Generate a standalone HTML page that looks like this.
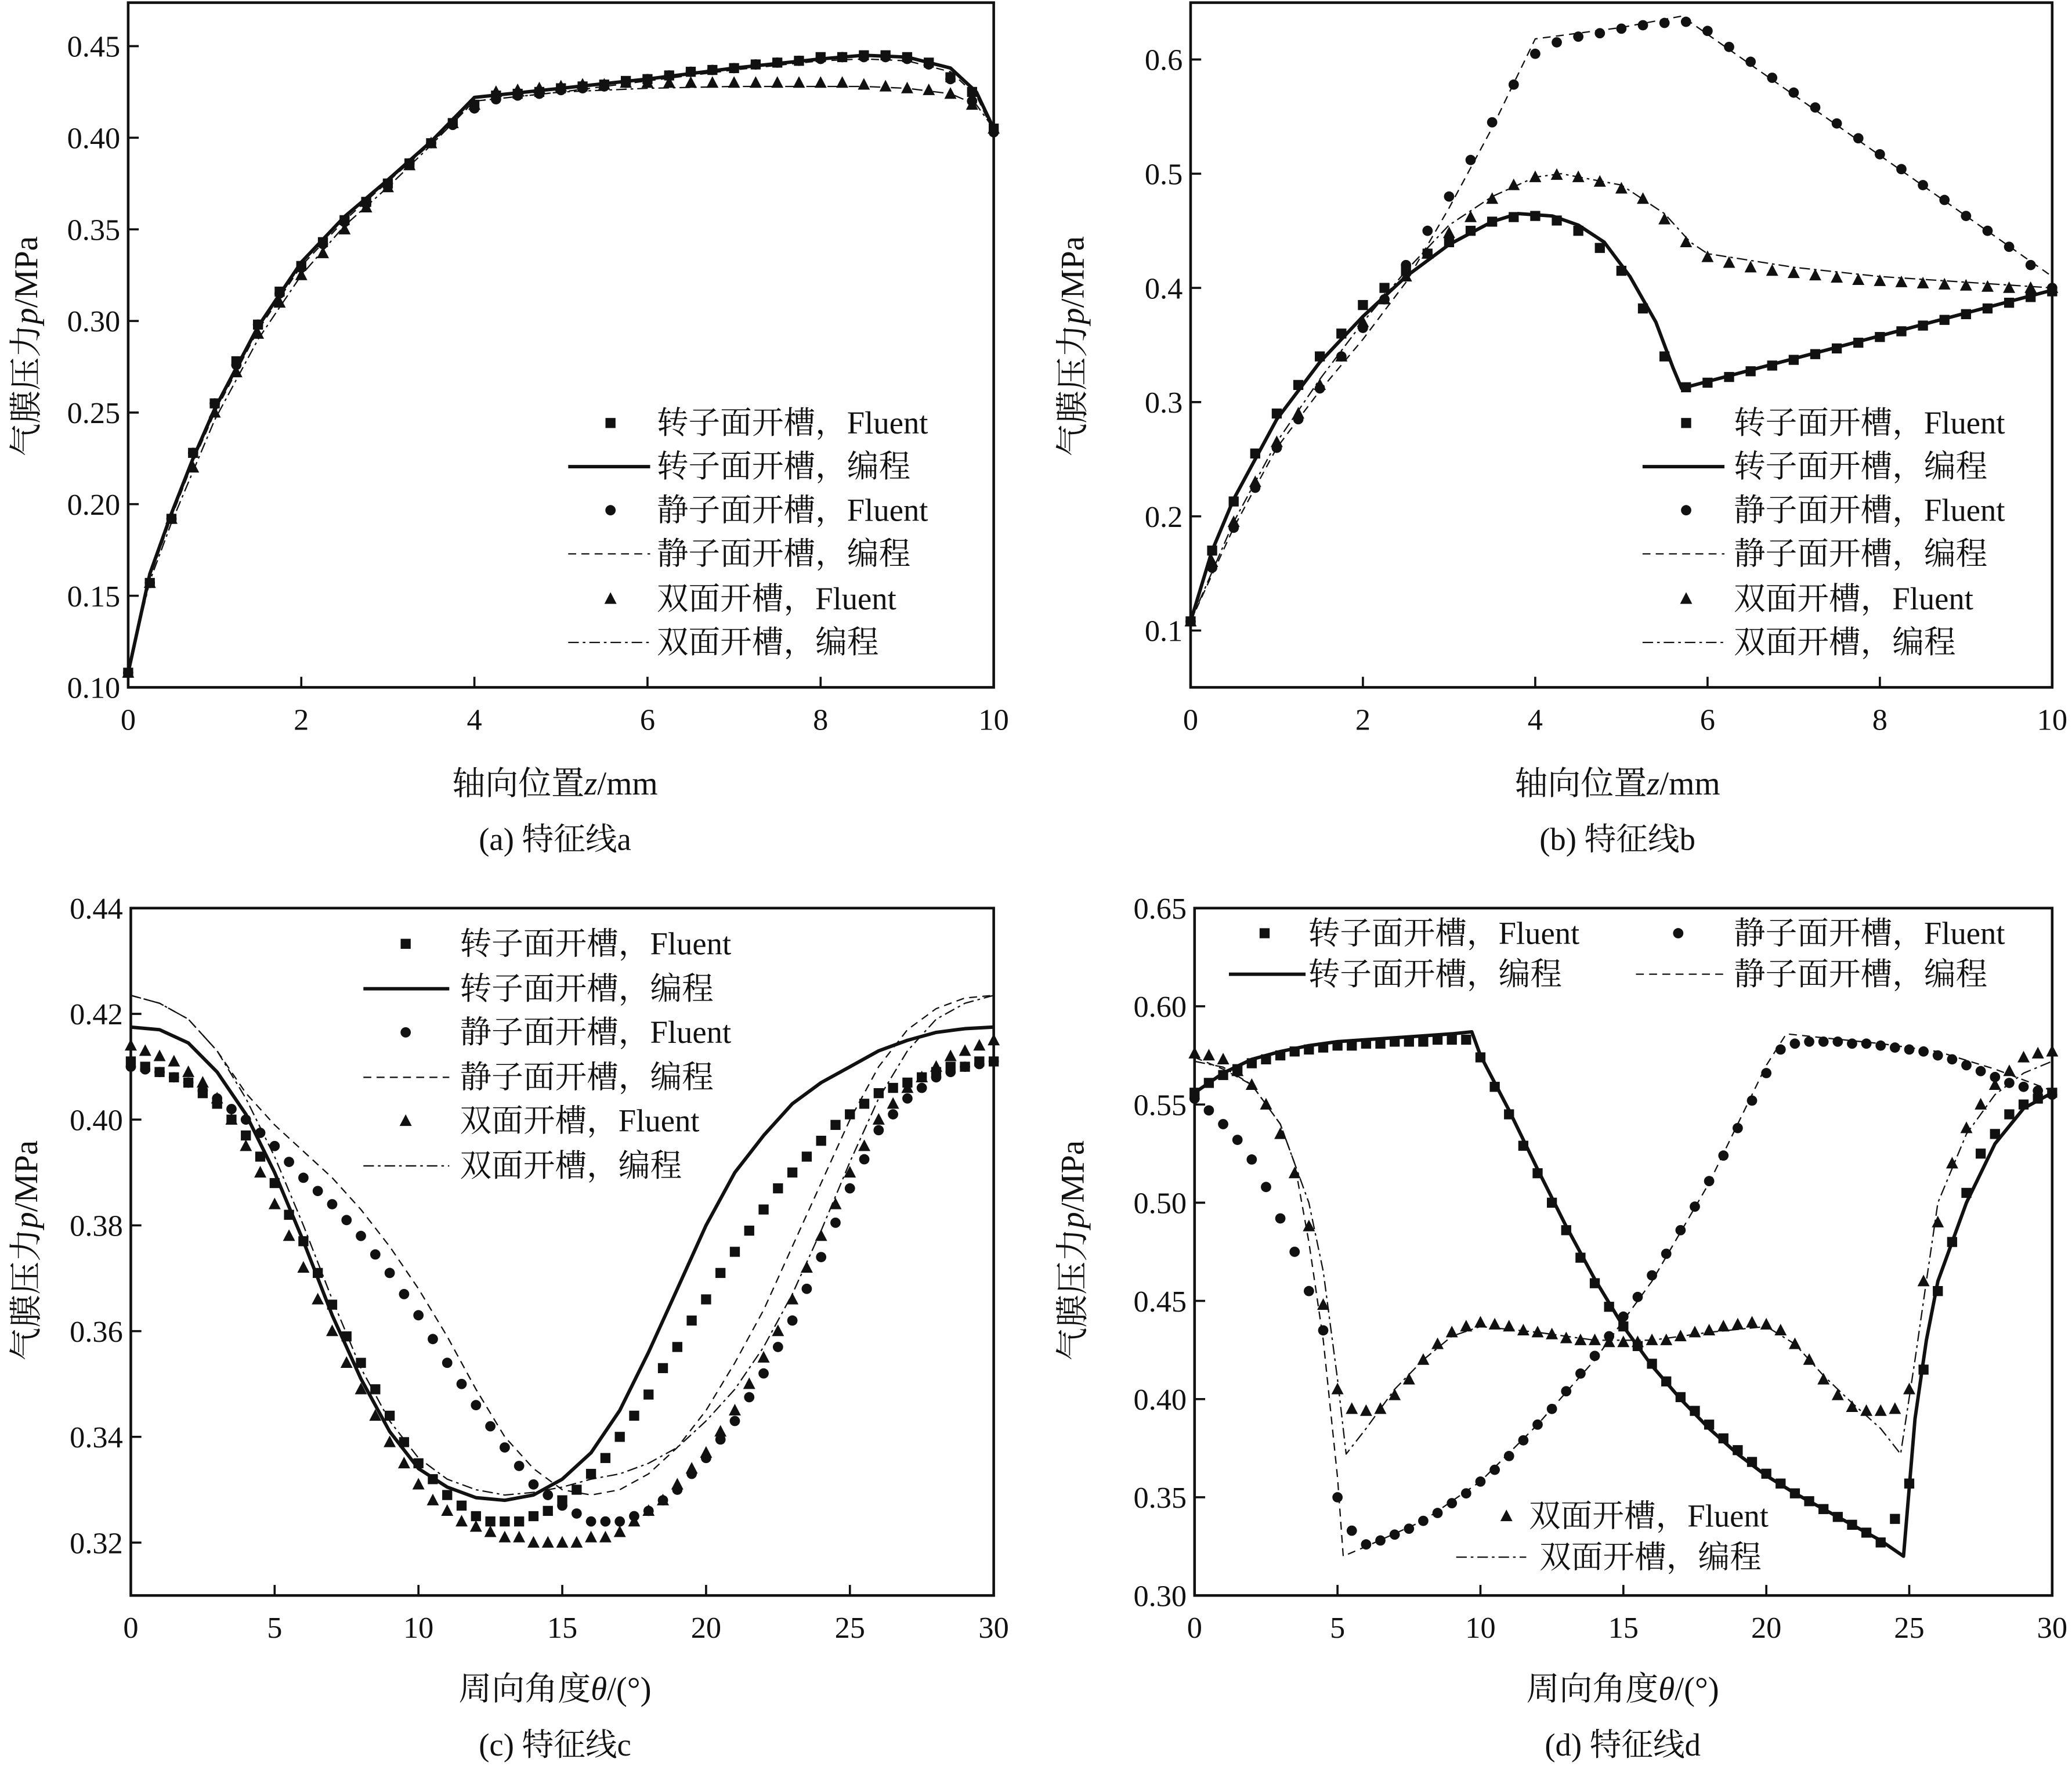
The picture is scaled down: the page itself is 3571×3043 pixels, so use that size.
<!DOCTYPE html>
<html><head><meta charset="utf-8">
<style>
html,body{margin:0;padding:0;background:#fff;}
svg{display:block;}
text{font-family:"Liberation Serif","Times New Roman","Noto Serif CJK SC","Noto Sans CJK SC",serif;fill:#111;}
</style></head>
<body>
<svg id="fig" xmlns="http://www.w3.org/2000/svg" width="3571" height="3043" viewBox="0 0 1568 1336" preserveAspectRatio="none"></svg>
<script>
// ---------- Panel (a) data ----------
const aMarkZ = [0,0.25,0.5,0.75,1,1.25,1.5,1.75,2,2.25,2.5,2.75,3,3.25,3.5,3.75,4,4.25,4.5,4.75,5,5.25,5.5,5.75,6,6.25,6.5,6.75,7,7.25,7.5,7.75,8,8.25,8.5,8.75,9,9.25,9.5,9.75,10];
const aRotorMark = [.108,.157,.192,.228,.255,.278,.298,.316,.330,.343,.355,.365,.375,.386,.397,.408,.418,.423,.424,.425,.427,.428,.429,.431,.432,.434,.436,.437,.438,.440,.441,.442,.444,.444,.445,.445,.444,.441,.433,.425,.405];
const aStatorMark = [.108,.157,.192,.228,.255,.276,.298,.315,.329,.342,.354,.364,.375,.386,.397,.407,.416,.421,.423,.424,.426,.427,.428,.430,.432,.434,.436,.437,.438,.440,.441,.442,.443,.444,.444,.444,.443,.440,.432,.420,.403];
const aDoubleMark = [.108,.157,.192,.220,.250,.272,.293,.310,.325,.337,.350,.362,.373,.385,.397,.408,.418,.425,.426,.427,.428,.429,.429,.430,.430,.430,.430,.430,.430,.430,.430,.430,.430,.430,.429,.428,.427,.426,.424,.418,.405];
const aLineZ = [0,0.25,0.5,0.75,1,1.5,2,2.5,3,3.5,4,5,6,7,8,8.5,9,9.5,9.8,10];
const aRotorLine = [.108,.162,.195,.225,.252,.297,.332,.357,.377,.398,.422,.427,.432,.438,.443,.445,.444,.438,.425,.405];
const aStatorLine = [.108,.160,.193,.223,.250,.295,.330,.355,.376,.397,.420,.425,.431,.437,.442,.443,.442,.436,.423,.403];
const aDoubleLine = [.108,.158,.190,.218,.246,.290,.325,.352,.373,.396,.420,.425,.427,.428,.428,.428,.427,.424,.418,.405];
// ---------- Panel (b) data ----------
const bMarkZ = aMarkZ;
const bRotorMark = [.108,.17,.213,.255,.29,.315,.34,.36,.385,.40,.415,.43,.44,.45,.458,.462,.463,.459,.45,.435,.415,.382,.34,.313,.317,.322,.327,.332,.337,.342,.347,.352,.357,.362,.367,.372,.377,.382,.387,.392,.397];
const bStatorMark = [.108,.155,.19,.225,.26,.285,.312,.34,.365,.39,.42,.45,.48,.512,.545,.578,.605,.615,.62,.623,.627,.63,.632,.633,.625,.611,.598,.584,.571,.558,.544,.531,.517,.504,.490,.477,.463,.450,.436,.42,.40];
const bDoubleMark = [.108,.16,.195,.23,.265,.29,.315,.34,.37,.39,.41,.43,.448,.462,.478,.49,.497,.499,.497,.493,.487,.478,.46,.44,.427,.422,.418,.415,.413,.411,.409,.407,.406,.405,.404,.403,.402,.401,.400,.400,.400];
const bRotorLineZ = [0,0.25,0.5,1,1.5,2,2.5,3,3.5,3.8,4.2,4.5,4.8,5.1,5.4,5.6,5.7,6,8,10];
const bRotorLine = [.108,.17,.215,.285,.335,.375,.41,.438,.458,.465,.463,.455,.44,.41,.37,.33,.312,.318,.358,.398];
const bStatorLineZ = [0,0.5,1,1.5,2,2.5,3,3.5,4,5,5.7,10];
const bStatorLine = [.108,.19,.26,.31,.355,.405,.47,.54,.618,.628,.638,.41];
const bDoubleLineZ = [0,0.5,1,1.5,2,2.5,3,3.5,4,4.3,5,5.5,5.8,6,7,8,9,10];
const bDoubleLine = [.108,.195,.265,.32,.37,.415,.455,.48,.497,.5,.49,.465,.44,.43,.418,.41,.405,.40];
// ---------- Panel (c) data ----------
const cMarkT = [0,.5,1,1.5,2,2.5,3,3.5,4,4.5,5,5.5,6,6.5,7,7.5,8,8.5,9,9.5,10,10.5,11,11.5,12,12.5,13,13.5,14,14.5,15,15.5,16,16.5,17,17.5,18,18.5,19,19.5,20,20.5,21,21.5,22,22.5,23,23.5,24,24.5,25,25.5,26,26.5,27,27.5,28,28.5,29,29.5,30];
const cRotorMark = [.411,.410,.409,.408,.407,.405,.403,.400,.397,.393,.388,.382,.377,.371,.365,.359,.354,.349,.344,.339,.335,.332,.329,.327,.325,.324,.324,.324,.325,.326,.328,.330,.333,.336,.340,.344,.348,.353,.357,.362,.366,.371,.375,.379,.383,.387,.390,.393,.396,.399,.401,.403,.405,.406,.407,.408,.409,.410,.410,.411,.411];
const cStatorMark = [.410,.4095,.409,.408,.407,.4055,.404,.402,.400,.3975,.395,.392,.389,.3865,.384,.381,.378,.3745,.371,.367,.363,.3585,.354,.350,.346,.342,.338,.3345,.331,.329,.327,.3255,.324,.324,.324,.325,.326,.328,.330,.333,.336,.3395,.343,.3475,.352,.357,.362,.368,.374,.3805,.387,.3925,.398,.401,.404,.406,.408,.409,.410,.4105,.411];
const cDoubleMark = [.414,.413,.412,.411,.409,.407,.404,.400,.395,.390,.384,.378,.372,.366,.360,.354,.349,.344,.339,.335,.331,.328,.326,.324,.323,.322,.321,.321,.320,.320,.320,.320,.321,.321,.322,.324,.326,.328,.331,.334,.337,.341,.345,.350,.355,.360,.366,.372,.378,.384,.390,.395,.400,.403,.406,.408,.410,.412,.413,.414,.415];
const cLineT = [0,1,2,3,4,5,6,7,8,9,10,11,12,13,14,15,16,17,18,19,20,21,22,23,24,25,26,27,28,29,30];
const cRotorLine = [.4175,.417,.4145,.409,.401,.39,.377,.363,.351,.341,.334,.3305,.3285,.328,.329,.332,.337,.345,.356,.368,.38,.39,.397,.403,.407,.41,.413,.415,.4165,.4172,.4175];
const cStatorLine = [.4235,.422,.419,.413,.405,.399,.394,.389,.383,.376,.368,.359,.349,.340,.334,.330,.329,.330,.333,.338,.345,.354,.364,.376,.388,.400,.410,.417,.421,.423,.4235];
const cDoubleLine = [.4235,.422,.419,.413,.404,.393,.38,.366,.353,.343,.336,.332,.330,.329,.3295,.3305,.332,.333,.335,.338,.343,.349,.357,.367,.379,.392,.404,.413,.419,.422,.4235];
// ---------- Panel (d) data ----------
const dMarkT = cMarkT;
const dRotorMark = [.556,.561,.565,.568,.571,.573,.575,.577,.578,.579,.580,.580,.581,.581,.582,.582,.582,.583,.583,.583,.574,.559,.545,.529,.515,.500,.486,.472,.459,.447,.437,.427,.418,.409,.401,.394,.387,.380,.374,.368,.362,.357,.352,.348,.344,.340,.336,.332,.327,.339,.357,.415,.455,.48,.505,.525,.535,.545,.55,.553,.556];
const dStatorMark = [.553,.547,.540,.532,.522,.508,.492,.475,.455,.435,.350,.333,.326,.328,.331,.334,.338,.342,.347,.352,.358,.364,.371,.379,.387,.395,.404,.413,.422,.432,.442,.452,.463,.474,.486,.498,.511,.524,.538,.552,.566,.578,.581,.582,.582,.582,.581,.581,.580,.579,.578,.577,.575,.573,.570,.567,.564,.561,.559,.557,.555];
const dDoubleMark = [.576,.575,.573,.567,.56,.55,.535,.515,.488,.448,.405,.395,.394,.395,.402,.41,.42,.428,.434,.437,.439,.438,.437,.435,.434,.433,.431,.430,.430,.429,.429,.429,.430,.430,.432,.434,.435,.437,.438,.439,.438,.435,.428,.42,.41,.402,.396,.394,.394,.395,.405,.46,.49,.52,.538,.55,.56,.567,.574,.576,.577];
const dRotorLineT = [0,1,2,3,4,5,6,7,8,9,9.7,10,11,12,13,14,15,16,17,18,19,20,21,22,23,24,24.8,25.2,25.6,26,27,28,29,30];
const dRotorLine = [.556,.566,.573,.577,.580,.582,.583,.584,.585,.586,.587,.575,.547,.517,.488,.461,.437,.417,.400,.385,.372,.361,.352,.344,.336,.328,.32,.39,.43,.46,.5,.53,.548,.556];
const dStatorLineT = [0,1,2,3,3.5,4,4.5,5,5.2,6,8,10,12,14,16,18,19,20,20.7,22,24,26,28,30];
const dStatorLine = [.574,.568,.56,.54,.52,.48,.43,.36,.32,.325,.338,.358,.387,.42,.46,.51,.54,.57,.586,.584,.581,.577,.568,.557];
const dDoubleLineT = [0,1,2,3,4,4.5,5,5.3,6,7,8,9,10,12,14,16,18,20,21,22,23,24,24.7,25.2,25.6,26,27,28,29,30];
const dDoubleLine = [.572,.569,.56,.54,.5,.465,.41,.372,.385,.405,.42,.432,.437,.434,.43,.43,.434,.437,.428,.412,.398,.385,.372,.42,.46,.5,.535,.555,.566,.572];
// ---------- Tick labels ----------
const aYTicks = [0.10,0.15,0.20,0.25,0.30,0.35,0.40,0.45];
const aYLabels = ["0.10","0.15","0.20","0.25","0.30","0.35","0.40","0.45"];
const bYTicks = [0.1,0.2,0.3,0.4,0.5,0.6];
const bYLabels = ["0.1","0.2","0.3","0.4","0.5","0.6"];
const abXTicks = [0,2,4,6,8,10];
const cYTicks = [0.32,0.34,0.36,0.38,0.40,0.42,0.44];
const cYLabels = ["0.32","0.34","0.36","0.38","0.40","0.42","0.44"];
const dYTicks = [0.30,0.35,0.40,0.45,0.50,0.55,0.60,0.65];
const dYLabels = ["0.30","0.35","0.40","0.45","0.50","0.55","0.60","0.65"];
const cdXTicks = [0,5,10,15,20,25,30];
const legendTexts = ["转子面开槽，Fluent","转子面开槽，编程","静子面开槽，Fluent","静子面开槽，编程","双面开槽，Fluent","双面开槽，编程"];

const NS = "http://www.w3.org/2000/svg";
const FONT = '"Liberation Serif","Noto Serif CJK SC","Noto Sans CJK SC",serif';
const svg = document.getElementById('fig');
function mk(tag, attrs, parent){const e=document.createElementNS(NS,tag);for(const k in attrs)e.setAttribute(k,attrs[k]);(parent||svg).appendChild(e);return e;}

function panel(p){
  const g = mk('g',{});
  
  
  const sx = v => p.x0 + (v - p.xmin)/(p.xmax - p.xmin)*(p.x1 - p.x0);
  const sy = v => p.y1 - (v - p.ymin)/(p.ymax - p.ymin)*(p.y1 - p.y0);
  const fr = mk('rect',{x:p.x0,y:p.y0,width:p.x1-p.x0,height:p.y1-p.y0,fill:'none',stroke:'#111','stroke-width':2},g);
  
  
  p.yt.forEach((v,i)=>{
    const y=sy(v);
    const t = mk('line',{x1:p.x0,x2:p.x0+8,y1:y,y2:y,stroke:'#111','stroke-width':1.6},g);
    
    
    const l = mk('text',{x:p.x0-6,y:y+8,'text-anchor':'end','font-size':23,'font-family':FONT},g);
    l.textContent = p.yl[i];
    
    
  });
  p.xt.forEach(v=>{
    const x=sx(v);
    const t = mk('line',{x1:x,x2:x,y1:p.y1,y2:p.y1-8,stroke:'#111','stroke-width':1.6},g);
    
    
    const l = mk('text',{x:x,y:p.y1+32,'text-anchor':'middle','font-size':23,'font-family':FONT},g);
    l.textContent = String(v);
    
    
  });
  const styles = {solid:{w:2.6,d:''},dash:{w:1,d:'6,4'},dashdot:{w:1,d:'8,3,2,3'}};
  p.lines.forEach(L=>{
    const pts = L.x.map((v,i)=>sx(v).toFixed(1)+','+sy(L.y[i]).toFixed(1)).join(' ');
    const s = styles[L.style];
    const pl = mk('polyline',{points:pts,fill:'none',stroke:'#111','stroke-width':s.w,'stroke-dasharray':s.d,'stroke-linejoin':'round'},g);
    
    
  });
  p.marks.forEach(M=>{
    M.x.forEach((v,i)=>{
      const m = marker(M.shape, sx(v), sy(M.y[i]), g);
      
      
    });
  });
  return g;
}
function marker(shape,x,y,g){
  if(shape==='sq') return mk('rect',{x:x-3.8,y:y-3.8,width:7.6,height:7.6,fill:'#111'},g);
  if(shape==='ci') return mk('circle',{cx:x,cy:y,r:3.9,fill:'#111'},g);
  return mk('polygon',{points:`${x},${y-5} ${x-4.6},${y+3.8} ${x+4.6},${y+3.8}`,fill:'#111'},g);
}
function legendRow(g,shape,style,mx,lx0,lx1,tx,ty,txt){
  if(shape){const m=marker(shape,mx,ty-8,g);}
  if(style){
    const st={solid:[2.6,''],dash:[1,'6,4'],dashdot:[1,'8,3,2,3']}[style];
    const l=mk('line',{x1:lx0,x2:lx1,y1:ty-8,y2:ty-8,stroke:'#111','stroke-width':st[0],'stroke-dasharray':st[1]},g);
    
    
  }
  const t=mk('text',{x:tx,y:ty,'font-size':24,'font-family':FONT},g);
  t.textContent=txt;
  
  
}
const shapes=['sq',null,'ci',null,'tr',null];
const lstyles=[null,'solid',null,'dash',null,'dashdot'];

const pa = panel({name:'panel-a',x0:97,x1:752,y0:2,y1:520,xmin:0,xmax:10,ymin:0.10,ymax:0.10+518/69.3*0.05,yt:aYTicks,yl:aYLabels,xt:abXTicks,
  lines:[{x:aLineZ,y:aRotorLine,style:'solid',name:'rotor-program-line'},{x:aLineZ,y:aStatorLine,style:'dash',name:'stator-program-line'},{x:aLineZ,y:aDoubleLine,style:'dashdot',name:'double-program-line'}],
  marks:[{x:aMarkZ,y:aRotorMark,shape:'sq',name:'rotor-fluent-point'},{x:aMarkZ,y:aStatorMark,shape:'ci',name:'stator-fluent-point'},{x:aMarkZ,y:aDoubleMark,shape:'tr',name:'double-fluent-point'}]});
const pb = panel({name:'panel-b',x0:901,x1:1553,y0:2,y1:520,xmin:0,xmax:10,ymin:0.1-43/864,ymax:0.1+475/864,yt:bYTicks,yl:bYLabels,xt:abXTicks,
  lines:[{x:bRotorLineZ,y:bRotorLine,style:'solid',name:'rotor-program-line'},{x:bStatorLineZ,y:bStatorLine,style:'dash',name:'stator-program-line'},{x:bDoubleLineZ,y:bDoubleLine,style:'dashdot',name:'double-program-line'}],
  marks:[{x:bMarkZ,y:bRotorMark,shape:'sq',name:'rotor-fluent-point'},{x:bMarkZ,y:bStatorMark,shape:'ci',name:'stator-fluent-point'},{x:bMarkZ,y:bDoubleMark,shape:'tr',name:'double-fluent-point'}]});
const pc = panel({name:'panel-c',x0:99,x1:752,y0:687,y1:1207,xmin:0,xmax:30,ymin:0.31,ymax:0.44,yt:cYTicks,yl:cYLabels,xt:cdXTicks,
  lines:[{x:cLineT,y:cRotorLine,style:'solid',name:'rotor-program-line'},{x:cLineT,y:cStatorLine,style:'dash',name:'stator-program-line'},{x:cLineT,y:cDoubleLine,style:'dashdot',name:'double-program-line'}],
  marks:[{x:cMarkT,y:cRotorMark,shape:'sq',name:'rotor-fluent-point'},{x:cMarkT,y:cStatorMark,shape:'ci',name:'stator-fluent-point'},{x:cMarkT,y:cDoubleMark,shape:'tr',name:'double-fluent-point'}]});
const pd = panel({name:'panel-d',x0:904,x1:1553,y0:687,y1:1207,xmin:0,xmax:30,ymin:0.30,ymax:0.65,yt:dYTicks,yl:dYLabels,xt:cdXTicks,
  lines:[{x:dRotorLineT,y:dRotorLine,style:'solid',name:'rotor-program-line'},{x:dStatorLineT,y:dStatorLine,style:'dash',name:'stator-program-line'},{x:dDoubleLineT,y:dDoubleLine,style:'dashdot',name:'double-program-line'}],
  marks:[{x:dMarkT,y:dRotorMark,shape:'sq',name:'rotor-fluent-point'},{x:dMarkT,y:dStatorMark,shape:'ci',name:'stator-fluent-point'},{x:dMarkT,y:dDoubleMark,shape:'tr',name:'double-fluent-point'}]});

const rowsAB=[328,361,394,427,461,494];
legendTexts.forEach((t,i)=>legendRow(pa,shapes[i],lstyles[i],462,430,492,497,rowsAB[i],t));
legendTexts.forEach((t,i)=>legendRow(pb,shapes[i],lstyles[i],1276,1243,1305,1312,rowsAB[i],t));
const rowsC=[722,756,789,823,856,890];
legendTexts.forEach((t,i)=>legendRow(pc,shapes[i],lstyles[i],307,275,340,348,rowsC[i],t));
legendRow(pd,'sq',null,957,0,0,990,714,legendTexts[0]);
legendRow(pd,null,'solid',0,930,988,990,745,legendTexts[1]);
legendRow(pd,'ci',null,1270,0,0,1312,714,legendTexts[2]);
legendRow(pd,null,'dash',0,1238,1305,1312,745,legendTexts[3]);
legendRow(pd,'tr',null,1140,0,0,1157,1155,legendTexts[4]);
legendRow(pd,null,'dashdot',0,1102,1155,1165,1186,legendTexts[5]);

function txt(s,x,y,size,name,rot){
  const t=mk('text',{x:x,y:y,'text-anchor':'middle','font-size':size,'font-family':FONT});
  if(rot) t.setAttribute('transform',`rotate(-90 ${x} ${y})`);
  t.innerHTML=s;
  
  
}
txt('轴向位置<tspan font-style="italic">z</tspan>/mm',420,601,25,'x-axis-title-a');
txt('轴向位置<tspan font-style="italic">z</tspan>/mm',1224,601,25,'x-axis-title-b');
txt('(a) 特征线a',420,643,24,'caption-a');
txt('(b) 特征线b',1224,643,24,'caption-b');
txt('周向角度<tspan font-style="italic">θ</tspan>/(°)',420,1286,25,'x-axis-title-c');
txt('周向角度<tspan font-style="italic">θ</tspan>/(°)',1228,1286,25,'x-axis-title-d');
txt('(c) 特征线c',420,1328,24,'caption-c');
txt('(d) 特征线d',1228,1328,24,'caption-d');
txt('气膜压力<tspan font-style="italic">p</tspan>/MPa',28,262,25,'y-axis-title-a',true);
txt('气膜压力<tspan font-style="italic">p</tspan>/MPa',820,262,25,'y-axis-title-b',true);
txt('气膜压力<tspan font-style="italic">p</tspan>/MPa',28,946,25,'y-axis-title-c',true);
txt('气膜压力<tspan font-style="italic">p</tspan>/MPa',820,946,25,'y-axis-title-d',true);
</script>
</body></html>
